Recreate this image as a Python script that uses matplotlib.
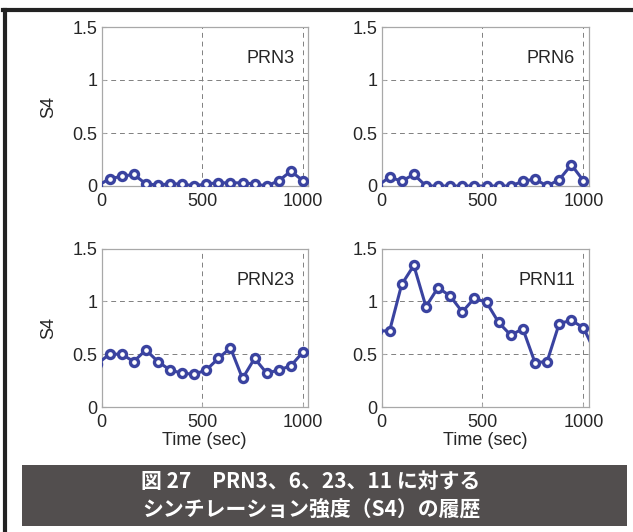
import matplotlib
matplotlib.use("Agg")
import matplotlib.pyplot as plt
from matplotlib.patches import Rectangle
from matplotlib.lines import Line2D

# Sample times (sec); first and last samples lie just outside the plotted range
time_sec = [-20, 40, 100, 160, 220, 280, 340, 400, 460, 520, 580, 640,
            700, 760, 820, 880, 940, 1000, 1060]

s4_prn3 = [0.00, 0.07, 0.09, 0.11, 0.02, 0.01, 0.02, 0.02, 0.00, 0.02,
           0.03, 0.03, 0.03, 0.02, 0.00, 0.05, 0.14, 0.05, None]
s4_prn6 = [0.00, 0.085, 0.045, 0.11, 0.00, 0.00, 0.00, 0.00, 0.00, 0.00,
           0.00, 0.00, 0.045, 0.065, 0.00, 0.06, 0.20, 0.05, None]
s4_prn23 = [0.41, 0.50, 0.50, 0.43, 0.54, 0.43, 0.35, 0.32, 0.31, 0.35,
            0.46, 0.56, 0.27, 0.46, 0.32, 0.35, 0.39, 0.52, None]
s4_prn11 = [0.72, 0.72, 1.16, 1.34, 0.95, 1.13, 1.05, 0.90, 1.03, 0.99,
            0.80, 0.68, 0.74, 0.42, 0.43, 0.79, 0.82, 0.75, 0.51]

panel_names = ["PRN3", "PRN6", "PRN23", "PRN11"]
panel_series = [s4_prn3, s4_prn6, s4_prn23, s4_prn11]

x_ticks = [0, 500, 1000]
y_ticks = [0, 0.5, 1, 1.5]
y_tick_labels = ["0", "0.5", "1", "1.5"]

caption_lines = ["図 27　PRN3、6、23、11 に対する",
                 "シンチレーション強度（S4）の履歴"]

W, H = 633, 532
fig = plt.figure(figsize=(W / 100, H / 100), dpi=100)
fig.patch.set_facecolor("white")

plt.rcParams["font.family"] = ["Liberation Sans", "DejaVu Sans"]

line_color = "#3a43a0"
spine_color = "#a8a8a8"
text_color = "#262626"

# axes rectangles in pixels: left, top, right, bottom
boxes = [(101.5, 27, 308, 186), (381.5, 27, 588.5, 186),
         (101.5, 248.5, 308, 407), (381.5, 248.5, 588.5, 407)]

for k, (name, series, (l, t, r, b)) in enumerate(zip(panel_names, panel_series, boxes)):
    ax = fig.add_axes([l / W, 1 - b / H, (r - l) / W, (b - t) / H])
    xs = [x for x, v in zip(time_sec, series) if v is not None]
    ys = [v for v in series if v is not None]
    ax.plot(xs, ys, color=line_color, lw=2.2, marker="o", ms=5.8,
            mfc="white", mec=line_color, mew=2.4, clip_on=True, zorder=3)
    ax.set_xlim(0, 1025)
    ax.set_ylim(0, 1.5)
    ax.set_xticks(x_ticks)
    ax.set_yticks(y_ticks)
    ax.set_yticklabels(y_tick_labels)
    ax.grid(True, linestyle=(0, (5, 4)), color="#808080", lw=0.7)
    ax.tick_params(direction="in", length=3, width=0.8, color=spine_color,
                   labelsize=13, labelcolor=text_color)
    ax.tick_params(axis="x", pad=5)
    ax.tick_params(axis="y", pad=3)
    for s in ax.spines.values():
        s.set_color(spine_color)
        s.set_linewidth(0.9)
    ax.text(0.935, 0.80, name, transform=ax.transAxes, ha="right", va="center",
            fontsize=13, color=text_color)
    if k % 2 == 0:
        ax.set_ylabel("S4", fontsize=13, color=text_color, labelpad=11)
    if k >= 2:
        ax.set_xlabel("Time (sec)", fontsize=13, color=text_color, labelpad=1)

# outer frame (top and left edges)
fig.add_artist(Line2D([4.5 / W, 4.5 / W], [0, 1 - 10 / H], transform=fig.transFigure,
                      color="#222222", lw=3))
fig.add_artist(Line2D([3 / W, 1], [1 - 10 / H, 1 - 10 / H], transform=fig.transFigure,
                      color="#222222", lw=3))

# caption band
fig.add_artist(Rectangle((22 / W, 1 - 526 / H), (627 - 22) / W, (526 - 465) / H,
                         transform=fig.transFigure, facecolor="#524e4e",
                         edgecolor="none"))
for yy, txt in zip([481, 509], caption_lines):
    fig.text(311 / W, 1 - yy / H, txt, ha="center", va="center", color="white",
             fontsize=15, fontweight="bold",
             family=["Noto Sans CJK JP", "DejaVu Sans"])

fig.savefig("out.png", dpi=100)
